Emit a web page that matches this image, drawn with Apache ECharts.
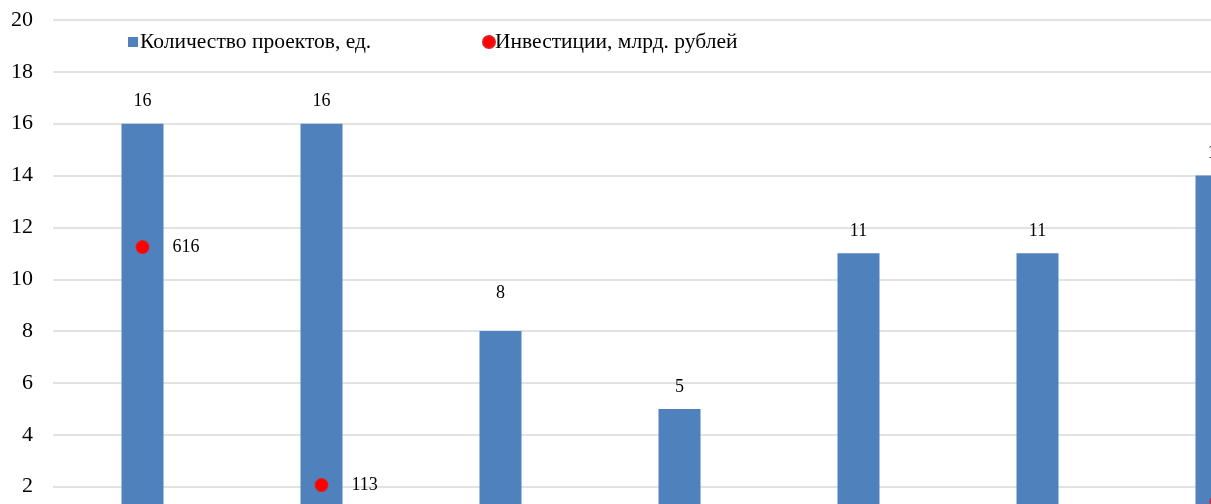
<!DOCTYPE html>
<html><head><meta charset="utf-8">
<script src="https://cdn.jsdelivr.net/npm/echarts@6/dist/echarts.min.js"></script>
<style>html,body{margin:0;padding:0;background:#fff;overflow:hidden}#c{width:1400px;height:600px}</style>
</head><body><div id="c"></div>
<script>
const categories = ['1','2','3','4','5','6','7'];
const projects = [16, 16, 8, 5, 11, 11, 14];
const investments = [616, 113, null, null, null, null, 78];
const yTicks = [0, 2, 4, 6, 8, 10, 12, 14, 16, 18, 20];

const FONT = '"Liberation Serif", "Times New Roman", serif';
const chart = echarts.init(document.getElementById('c'));
const barData = projects.map((v, i) => i === 2 ? {value: v, label: {distance: 29}} : v);
chart.setOption({
  animation: false,
  textStyle: {fontFamily: FONT},
  legend: [
    {left: 123, top: 26, itemWidth: 10, itemHeight: 10, itemGap: 0,
     textStyle: {fontFamily: FONT, fontSize: 21.5, color: '#000', padding: [0,0,0,-3]},
     data: [{name: 'Количество проектов, ед.', icon: 'rect'}]},
    {left: 477, top: 26, itemWidth: 12, itemHeight: 12,
     textStyle: {fontFamily: FONT, fontSize: 21.5, color: '#000', padding: [0,0,0,-5]},
     data: [{name: 'Инвестиции, млрд. рублей', icon: 'circle'}]}
  ],
  grid: {left: 53, top: 20, width: 1253, height: 518.5, containLabel: false},
  xAxis: {type: 'category', data: categories,
    axisLine: {show: false}, axisTick: {show: false}, axisLabel: {show: false}},
  yAxis: [
    {type: 'value', min: yTicks[0], max: yTicks[yTicks.length-1], interval: 2,
     axisLine: {show: false}, axisTick: {show: false},
     axisLabel: {fontFamily: FONT, fontSize: 22, color: '#000', margin: 20},
     splitLine: {lineStyle: {color: '#d9d9d9', width: 1.5}}},
    {type: 'value', min: 0, max: 1096, show: false, splitLine: {show: false}}
  ],
  series: [
    {name: 'Количество проектов, ед.', type: 'bar', data: barData, barWidth: 42,
     itemStyle: {color: '#4f81bd'},
     label: {show: true, position: 'top', distance: 13, fontFamily: FONT, fontSize: 18, color: '#000'}},
    {name: 'Инвестиции, млрд. рублей', type: 'scatter', yAxisIndex: 1, data: investments,
     symbol: 'circle', symbolSize: 13,
     itemStyle: {color: '#ff0000', borderColor: '#e02020', borderWidth: 1, opacity: 1},
     label: {show: true, position: 'right', distance: 23, fontFamily: FONT, fontSize: 18, color: '#000'}}
  ]
});
</script></body></html>
